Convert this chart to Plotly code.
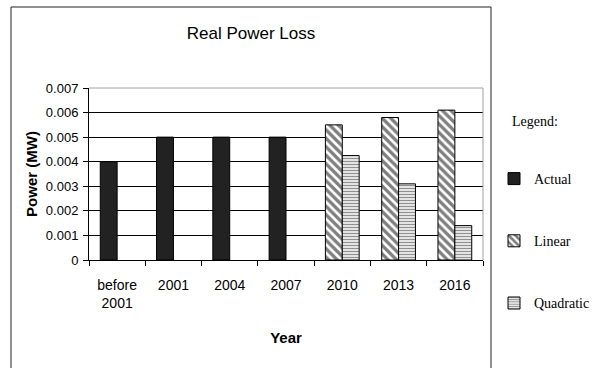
import plotly.graph_objects as go

# Chart data
categories = ["before 2001", "2001", "2004", "2007", "2010", "2013", "2016"]
tick_labels = ["before<br>2001", "2001", "2004", "2007", "2010", "2013", "2016"]
actual = [0.004, 0.005, 0.005, 0.005, None, None, None]
linear = [None, None, None, None, 0.0055, 0.0058, 0.0061]
quadratic = [None, None, None, None, 0.00425, 0.0031, 0.0014]
y_ticks = [0, 0.001, 0.002, 0.003, 0.004, 0.005, 0.006, 0.007]
y_tick_text = ["0", "0.001", "0.002", "0.003", "0.004", "0.005", "0.006", "0.007"]

W, H = 596, 368
L, R, T, B = 89, 113, 88, 108          # plot-area margins (px)
pw, ph = W - L - R, H - T - B

SANS = "Liberation Sans"
SERIF = "Liberation Serif"
outline = dict(color="black", width=1)

fig = go.Figure()
fig.add_trace(go.Bar(
    x=categories, y=actual, name="Actual", offsetgroup="a",
    marker=dict(color="#222222", line=outline),
    legendgroup="g1",
))
fig.add_trace(go.Bar(
    x=categories, y=linear, name="Linear", offsetgroup="a",
    marker=dict(color="white", line=outline,
                pattern=dict(shape="\\", fgcolor="black", bgcolor="white",
                             size=6, solidity=0.55)),
    legendgroup="g2",
))
fig.add_trace(go.Bar(
    x=categories, y=quadratic, name="Quadratic", offsetgroup="b",
    marker=dict(color="white", line=outline,
                pattern=dict(shape="-", fgcolor="#222222", bgcolor="white",
                             size=3, solidity=0.5)),
    legendgroup="g3",
))

def px_x(v):
    return (v - L) / pw

def px_y(v):
    return (H - B - v) / ph

shapes = [
    # outer chart frame
    dict(type="rect", xref="paper", yref="paper",
         x0=px_x(11), x1=px_x(491), y0=px_y(7), y1=px_y(400),
         line=dict(color="#222222", width=1), layer="below"),
    # grey top and right edges of the plot area
    dict(type="line", xref="paper", yref="paper", x0=0, x1=1, y0=1, y1=1,
         line=dict(color="#a0a0a0", width=1), layer="above"),
    dict(type="line", xref="paper", yref="paper", x0=1, x1=1, y0=0, y1=1,
         line=dict(color="#a0a0a0", width=1), layer="above"),
]

fig.update_layout(
    width=W, height=H,
    margin=dict(l=L, r=R, t=T, b=B, autoexpand=False),
    paper_bgcolor="white", plot_bgcolor="white",
    barmode="group", bargap=0.4, bargroupgap=0,
    title=dict(text="Real Power Loss", xref="container", yref="container",
               x=251 / W, y=1 - 33 / H, xanchor="center", yanchor="middle",
               font=dict(family=SANS, size=17, color="black")),
    font=dict(family=SANS, size=13, color="black"),
    shapes=shapes,
    showlegend=True,
    legend=dict(xref="container", yref="container",
                x=494 / W, y=1 - 163 / H, xanchor="left", yanchor="top",
                font=dict(family=SERIF, size=14, color="black"),
                traceorder="grouped", tracegroupgap=41,
                bgcolor="rgba(0,0,0,0)", borderwidth=0),
    annotations=[dict(text="Legend:", xref="paper", yref="paper",
                      x=px_x(510), y=px_y(121), xanchor="left", yanchor="middle",
                      showarrow=False,
                      font=dict(family=SERIF, size=14, color="black"))],
)

fig.update_xaxes(
    type="category", tickvals=categories, ticktext=tick_labels,
    tickson="boundaries", ticks="outside", ticklen=5, tickcolor="black",
    showline=True, linecolor="black", linewidth=1, showgrid=False,
    ticklabelstandoff=12,
    tickfont=dict(family=SANS, size=14, color="black"),
    title=dict(text="<b>Year</b>", standoff=22,
               font=dict(family=SANS, size=15, color="black")),
)
fig.update_yaxes(
    range=[0, 0.007], tickvals=y_ticks, ticktext=y_tick_text,
    ticks="outside", ticklen=5, tickcolor="black",
    showline=True, linecolor="black", linewidth=1,
    showgrid=True, gridcolor="black", gridwidth=1, zeroline=False,
    ticklabelstandoff=2,
    tickfont=dict(family=SANS, size=13, color="black"),
    title=dict(text="<b>Power (MW)</b>", standoff=4,
               font=dict(family=SANS, size=15, color="black")),
)

fig.write_html("out.html")
